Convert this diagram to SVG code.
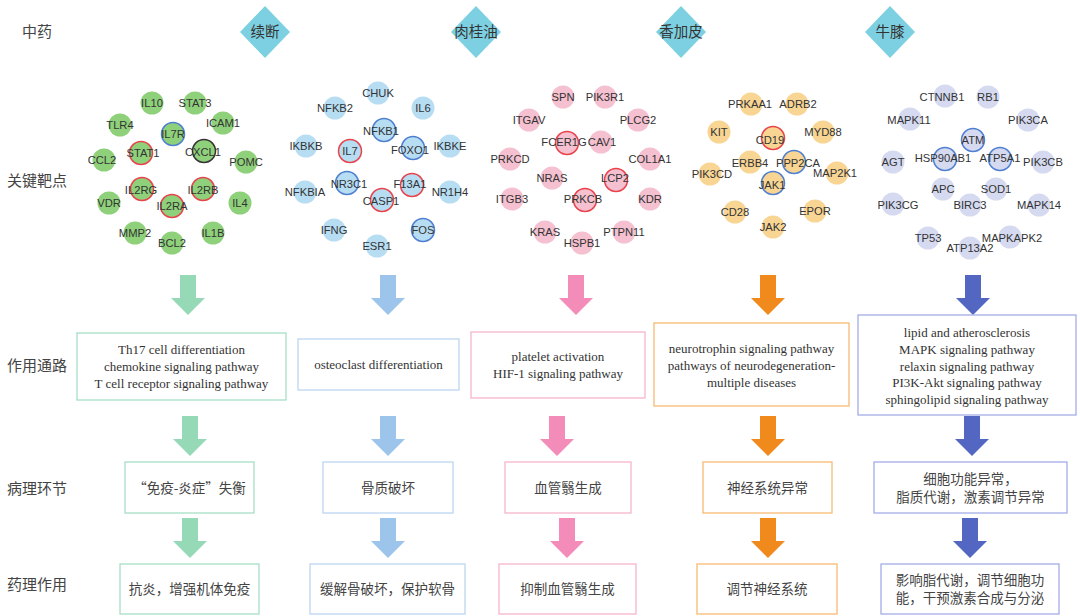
<svg xmlns="http://www.w3.org/2000/svg" xmlns:xlink="http://www.w3.org/1999/xlink" width="1080" height="616" viewBox="0 0 1080 616">
<style>
.lab{font-family:"Noto Sans CJK SC",sans-serif;font-size:15px;fill:#444;text-anchor:middle}
.dia{fill:#7dd0e1}
.dt{font-family:"Noto Sans CJK SC",sans-serif;font-size:14.5px;fill:#333;text-anchor:middle}
.n{font-family:"Liberation Sans",Arial,sans-serif;font-size:11.2px;fill:#333;text-anchor:middle}
circle{r:11.5px}
.g{fill:#8fd17b}.b{fill:#b7ddf3}.p{fill:#f5c0cf}.o{fill:#f9d593}.v{fill:#d6daf1}
.rr{stroke:#e8434b;stroke-width:1.5}.rb{stroke:#4f7fd0;stroke-width:1.5}.rk{stroke:#333;stroke-width:1.5}
.box{fill:#fff;stroke-width:1.3}
.bg{stroke:#a8dfc6}.bb{stroke:#bcd6f2}.bp{stroke:#f6b5cb}.bo{stroke:#f8bb72}.bv{stroke:#a3ace6}
.bt{font-family:"Liberation Serif","Noto Sans CJK SC",serif;font-size:13px;fill:#333;text-anchor:middle}
.ct{font-family:"Noto Sans CJK SC",sans-serif;font-size:13.5px;fill:#444;text-anchor:middle}
</style>
<defs>
<polygon id="arr" points="-8,0 8,0 8,23 17,23 0,40 -17,23 -8,23"/>
</defs>
<rect width="1080" height="616" fill="#fff"/>

<g id="row-labels">
<text class="lab" x="37" y="37">中药</text>
<text class="lab" x="37" y="186">关键靶点</text>
<text class="lab" x="37" y="371">作用通路</text>
<text class="lab" x="37" y="494">病理环节</text>
<text class="lab" x="37" y="590">药理作用</text>
</g>

<g id="herb-xuduan"><polygon class="dia" points="265,6 290,32 265,58 240,32"/><text class="dt" x="265" y="37">续断</text></g>
<g id="herb-rouguiyou"><polygon class="dia" points="476,6 501,32 476,58 451,32"/><text class="dt" x="476" y="37">肉桂油</text></g>
<g id="herb-xiangjiapi"><polygon class="dia" points="681,6 706,32 681,58 656,32"/><text class="dt" x="681" y="37">香加皮</text></g>
<g id="herb-niuxi"><polygon class="dia" points="890,6 915,32 890,58 865,32"/><text class="dt" x="890" y="37">牛膝</text></g>

<g id="targets-xuduan">
<g id="n-IL10"><circle class="g" cx="152" cy="103" r="11.5"/><text class="n" x="152" y="107">IL10</text></g>
<g id="n-STAT3"><circle class="g" cx="195" cy="103" r="11.5"/><text class="n" x="195" y="107">STAT3</text></g>
<g id="n-TLR4"><circle class="g" cx="120" cy="125" r="11.5"/><text class="n" x="120" y="129">TLR4</text></g>
<g id="n-ICAM1"><circle class="g" cx="223" cy="123" r="11.5"/><text class="n" x="223" y="127">ICAM1</text></g>
<g id="n-IL7R"><circle class="g rb" cx="173" cy="134" r="11.5"/><text class="n" x="173" y="138">IL7R</text></g>
<g id="n-STAT1"><circle class="g rr" cx="141" cy="153" r="11.5"/><text class="n" x="143" y="157">STAT1</text></g>
<g id="n-CXCL1"><circle class="g rk" cx="204" cy="151" r="11.5"/><text class="n" x="203" y="156">CXCL1</text></g>
<g id="n-CCL2"><circle class="g" cx="104" cy="160" r="11.5"/><text class="n" x="102" y="164">CCL2</text></g>
<g id="n-POMC"><circle class="g" cx="246" cy="162" r="11.5"/><text class="n" x="246" y="166">POMC</text></g>
<g id="n-IL2RG"><circle class="g rr" cx="142" cy="189" r="11.5"/><text class="n" x="141" y="194">IL2RG</text></g>
<g id="n-IL2RB"><circle class="g rr" cx="203" cy="189" r="11.5"/><text class="n" x="203" y="194">IL2RB</text></g>
<g id="n-IL2RA"><circle class="g rr" cx="172" cy="206" r="11.5"/><text class="n" x="172" y="210">IL2RA</text></g>
<g id="n-VDR"><circle class="g" cx="109" cy="203" r="11.5"/><text class="n" x="109" y="207">VDR</text></g>
<g id="n-IL4"><circle class="g" cx="240" cy="203" r="11.5"/><text class="n" x="240" y="207">IL4</text></g>
<g id="n-MMP2"><circle class="g" cx="135" cy="233" r="11.5"/><text class="n" x="135" y="237">MMP2</text></g>
<g id="n-IL1B"><circle class="g" cx="213" cy="233" r="11.5"/><text class="n" x="213" y="237">IL1B</text></g>
<g id="n-BCL2"><circle class="g" cx="172" cy="243" r="11.5"/><text class="n" x="172" y="247">BCL2</text></g>
</g>

<g id="targets-rouguiyou">
<g id="n-CHUK"><circle class="b" cx="378" cy="93" r="11.5"/><text class="n" x="378" y="97">CHUK</text></g>
<g id="n-NFKB2"><circle class="b" cx="335" cy="108" r="11.5"/><text class="n" x="335" y="112">NFKB2</text></g>
<g id="n-IL6"><circle class="b" cx="423" cy="108" r="11.5"/><text class="n" x="423" y="112">IL6</text></g>
<g id="n-NFKB1"><circle class="b rb" cx="384" cy="130" r="11.5"/><text class="n" x="381" y="135">NFKB1</text></g>
<g id="n-IKBKB"><circle class="b" cx="306" cy="146" r="11.5"/><text class="n" x="306" y="150">IKBKB</text></g>
<g id="n-IL7"><circle class="b rr" cx="350" cy="151" r="11.5"/><text class="n" x="350" y="155">IL7</text></g>
<g id="n-FOXO1"><circle class="b rb" cx="413" cy="148" r="11.5"/><text class="n" x="410" y="154">FOXO1</text></g>
<g id="n-IKBKE"><circle class="b" cx="450" cy="146" r="11.5"/><text class="n" x="450" y="150">IKBKE</text></g>
<g id="n-NFKBIA"><circle class="b" cx="305" cy="192" r="11.5"/><text class="n" x="305" y="196">NFKBIA</text></g>
<g id="n-NR3C1"><circle class="b rb" cx="347" cy="183" r="11.5"/><text class="n" x="349" y="188">NR3C1</text></g>
<g id="n-F13A1"><circle class="b rr" cx="412" cy="185" r="11.5"/><text class="n" x="410" y="188">F13A1</text></g>
<g id="n-NR1H4"><circle class="b" cx="450" cy="192" r="11.5"/><text class="n" x="450" y="196">NR1H4</text></g>
<g id="n-CASP1"><circle class="b rr" cx="382" cy="200" r="11.5"/><text class="n" x="381" y="205">CASP1</text></g>
<g id="n-IFNG"><circle class="b" cx="334" cy="230" r="11.5"/><text class="n" x="334" y="234">IFNG</text></g>
<g id="n-FOS"><circle class="b rb" cx="423" cy="230" r="11.5"/><text class="n" x="423" y="234">FOS</text></g>
<g id="n-ESR1"><circle class="b" cx="377" cy="246" r="11.5"/><text class="n" x="377" y="250">ESR1</text></g>
</g>

<g id="targets-rouguiyou-pink">
<g id="n-SPN"><circle class="p" cx="563" cy="97" r="11.5"/><text class="n" x="563" y="101">SPN</text></g>
<g id="n-PIK3R1"><circle class="p" cx="605" cy="97" r="11.5"/><text class="n" x="605" y="101">PIK3R1</text></g>
<g id="n-ITGAV"><circle class="p" cx="529" cy="120" r="11.5"/><text class="n" x="529" y="124">ITGAV</text></g>
<g id="n-PLCG2"><circle class="p" cx="638" cy="120" r="11.5"/><text class="n" x="638" y="124">PLCG2</text></g>
<g id="n-FCER1G"><circle class="p rr" cx="567" cy="143" r="11.5"/><text class="n" x="564" y="146">FCER1G</text></g>
<g id="n-CAV1"><circle class="p" cx="601" cy="142" r="11.5"/><text class="n" x="602" y="146">CAV1</text></g>
<g id="n-PRKCD"><circle class="p" cx="510" cy="159" r="11.5"/><text class="n" x="510" y="163">PRKCD</text></g>
<g id="n-COL1A1"><circle class="p" cx="650" cy="159" r="11.5"/><text class="n" x="650" y="163">COL1A1</text></g>
<g id="n-NRAS"><circle class="p" cx="552" cy="178" r="11.5"/><text class="n" x="552" y="182">NRAS</text></g>
<g id="n-LCP2"><circle class="p rr" cx="616" cy="180" r="11.5"/><text class="n" x="615" y="182">LCP2</text></g>
<g id="n-ITGB3"><circle class="p" cx="512" cy="199" r="11.5"/><text class="n" x="512" y="203">ITGB3</text></g>
<g id="n-PRKCB"><circle class="p rr" cx="585" cy="200" r="11.5"/><text class="n" x="583" y="203">PRKCB</text></g>
<g id="n-KDR"><circle class="p" cx="650" cy="199" r="11.5"/><text class="n" x="650" y="203">KDR</text></g>
<g id="n-KRAS"><circle class="p" cx="545" cy="232" r="11.5"/><text class="n" x="545" y="236">KRAS</text></g>
<g id="n-PTPN11"><circle class="p" cx="624" cy="232" r="11.5"/><text class="n" x="624" y="236">PTPN11</text></g>
<g id="n-HSPB1"><circle class="p" cx="582" cy="243" r="11.5"/><text class="n" x="582" y="247">HSPB1</text></g>
</g>

<g id="targets-xiangjiapi">
<g id="n-PRKAA1"><circle class="o" cx="751" cy="104" r="11.5"/><text class="n" x="750" y="108">PRKAA1</text></g>
<g id="n-ADRB2"><circle class="o" cx="797" cy="104" r="11.5"/><text class="n" x="798" y="108">ADRB2</text></g>
<g id="n-KIT"><circle class="o" cx="719" cy="132" r="11.5"/><text class="n" x="719" y="136">KIT</text></g>
<g id="n-MYD88"><circle class="o" cx="823" cy="132" r="11.5"/><text class="n" x="823" y="136">MYD88</text></g>
<g id="n-CD19"><circle class="o rr" cx="773" cy="138" r="11.5"/><text class="n" x="770" y="144">CD19</text></g>
<g id="n-ERBB4"><circle class="o" cx="750" cy="162" r="11.5"/><text class="n" x="750" y="167">ERBB4</text></g>
<g id="n-PPP2CA"><circle class="o rb" cx="794" cy="162" r="11.5"/><text class="n" x="798" y="167">PPP2CA</text></g>
<g id="n-PIK3CD"><circle class="o" cx="710" cy="174" r="11.5"/><text class="n" x="712" y="178">PIK3CD</text></g>
<g id="n-MAP2K1"><circle class="o" cx="837" cy="173" r="11.5"/><text class="n" x="835" y="177">MAP2K1</text></g>
<g id="n-JAK1"><circle class="o rb" cx="773" cy="183" r="11.5"/><text class="n" x="772" y="189">JAK1</text></g>
<g id="n-CD28"><circle class="o" cx="735" cy="212" r="11.5"/><text class="n" x="735" y="216">CD28</text></g>
<g id="n-EPOR"><circle class="o" cx="815" cy="211" r="11.5"/><text class="n" x="815" y="215">EPOR</text></g>
<g id="n-JAK2"><circle class="o" cx="773" cy="227" r="11.5"/><text class="n" x="773" y="231">JAK2</text></g>
</g>

<g id="targets-niuxi">
<g id="n-CTNNB1"><circle class="v" cx="945" cy="96" r="11.5"/><text class="n" x="942" y="101">CTNNB1</text></g>
<g id="n-RB1"><circle class="v" cx="988" cy="97" r="11.5"/><text class="n" x="988" y="101">RB1</text></g>
<g id="n-MAPK11"><circle class="v" cx="910" cy="119" r="11.5"/><text class="n" x="909" y="124">MAPK11</text></g>
<g id="n-PIK3CA"><circle class="v" cx="1028" cy="120" r="11.5"/><text class="n" x="1028" y="124">PIK3CA</text></g>
<g id="n-ATM"><circle class="v rb" cx="973" cy="140" r="11.5"/><text class="n" x="973" y="144">ATM</text></g>
<g id="n-HSP90AB1"><circle class="v rb" cx="945" cy="159" r="11.5"/><text class="n" x="943" y="162">HSP90AB1</text></g>
<g id="n-ATP5A1"><circle class="v rb" cx="1000" cy="159" r="11.5"/><text class="n" x="1000" y="162">ATP5A1</text></g>
<g id="n-AGT"><circle class="v" cx="893" cy="162" r="11.5"/><text class="n" x="893" y="166">AGT</text></g>
<g id="n-PIK3CB"><circle class="v" cx="1043" cy="162" r="11.5"/><text class="n" x="1043" y="166">PIK3CB</text></g>
<g id="n-APC"><circle class="v" cx="943" cy="189" r="11.5"/><text class="n" x="943" y="193">APC</text></g>
<g id="n-SOD1"><circle class="v" cx="996" cy="189" r="11.5"/><text class="n" x="996" y="193">SOD1</text></g>
<g id="n-PIK3CG"><circle class="v" cx="893" cy="204" r="11.5"/><text class="n" x="898" y="209">PIK3CG</text></g>
<g id="n-BIRC3"><circle class="v" cx="970" cy="205" r="11.5"/><text class="n" x="970" y="209">BIRC3</text></g>
<g id="n-MAPK14"><circle class="v" cx="1039" cy="205" r="11.5"/><text class="n" x="1039" y="209">MAPK14</text></g>
<g id="n-TP53"><circle class="v" cx="928" cy="238" r="11.5"/><text class="n" x="928" y="242">TP53</text></g>
<g id="n-MAPKAPK2"><circle class="v" cx="1010" cy="237" r="11.5"/><text class="n" x="1012" y="242">MAPKAPK2</text></g>
<g id="n-ATP13A2"><circle class="v" cx="970" cy="248" r="11.5"/><text class="n" x="970" y="252">ATP13A2</text></g>
</g>

<g id="connectors">
<use xlink:href="#arr" href="#arr" x="188" y="275" fill="#96d9b6"/>
<use xlink:href="#arr" href="#arr" x="388" y="275" fill="#9dc4ea"/>
<use xlink:href="#arr" href="#arr" x="576" y="275" fill="#f38cb8"/>
<use xlink:href="#arr" href="#arr" x="768" y="275" fill="#f08a1c"/>
<use xlink:href="#arr" href="#arr" x="973" y="275" fill="#5266c2"/>
<use xlink:href="#arr" href="#arr" x="190" y="416" fill="#96d9b6"/>
<use xlink:href="#arr" href="#arr" x="388" y="416" fill="#9dc4ea"/>
<use xlink:href="#arr" href="#arr" x="557" y="416" fill="#f38cb8"/>
<use xlink:href="#arr" href="#arr" x="768" y="416" fill="#f08a1c"/>
<use xlink:href="#arr" href="#arr" x="972" y="416" fill="#5266c2"/>
<use xlink:href="#arr" href="#arr" x="190" y="518" fill="#96d9b6"/>
<use xlink:href="#arr" href="#arr" x="388" y="518" fill="#9dc4ea"/>
<use xlink:href="#arr" href="#arr" x="567" y="518" fill="#f38cb8"/>
<use xlink:href="#arr" href="#arr" x="768" y="518" fill="#f08a1c"/>
<use xlink:href="#arr" href="#arr" x="970" y="518" fill="#5266c2"/>
</g>

<g id="path-xuduan"><rect class="box bg" x="77" y="333" width="209" height="67"/>
<text class="bt" x="181.5" y="354">Th17 cell differentiation</text>
<text class="bt" x="181.5" y="371">chemokine signaling pathway</text>
<text class="bt" x="181.5" y="388">T cell receptor signaling pathway</text></g>
<g id="path-rouguiyou"><rect class="box bb" x="298" y="339" width="161" height="51"/>
<text class="bt" x="378.5" y="369">osteoclast differentiation</text></g>
<g id="path-rgy"><rect class="box bp" x="471" y="332" width="174" height="66"/>
<text class="bt" x="558" y="361">platelet activation</text>
<text class="bt" x="558" y="378">HIF-1 signaling pathway</text></g>
<g id="path-xiangjiapi"><rect class="box bo" x="654" y="323" width="195" height="83"/>
<text class="bt" x="751.5" y="353">neurotrophin signaling pathway</text>
<text class="bt" x="751.5" y="370">pathways of neurodegeneration-</text>
<text class="bt" x="751.5" y="387">multiple diseases</text></g>
<g id="path-niuxi"><rect class="box bv" x="858" y="315" width="218" height="100"/>
<text class="bt" x="967" y="337">lipid and atherosclerosis</text>
<text class="bt" x="967" y="354">MAPK signaling pathway</text>
<text class="bt" x="967" y="370.5">relaxin signaling pathway</text>
<text class="bt" x="967" y="387">PI3K-Akt signaling pathway</text>
<text class="bt" x="967" y="404">sphingolipid signaling pathway</text></g>

<g id="patho-xuduan"><rect class="box bg" x="125" y="462" width="129" height="51"/><text class="ct" x="189.5" y="492.5">“免疫-炎症”失衡</text></g>
<g id="patho-rouguiyou"><rect class="box bb" x="323" y="462" width="130" height="51"/><text class="ct" x="388" y="492.5">骨质破坏</text></g>
<g id="patho-rgy"><rect class="box bp" x="505" y="462" width="126" height="51"/><text class="ct" x="568" y="492.5">血管翳生成</text></g>
<g id="patho-xiangjiapi"><rect class="box bo" x="703" y="462" width="129" height="51"/><text class="ct" x="767.5" y="492.5">神经系统异常</text></g>
<g id="patho-niuxi"><rect class="box bv" x="874" y="462" width="193" height="51"/><text class="ct" x="970.5" y="484">细胞功能异常，</text><text class="ct" x="970.5" y="502">脂质代谢，激素调节异常</text></g>

<g id="pharm-xuduan"><rect class="box bg" x="120" y="564" width="139" height="50"/><text class="ct" x="189.5" y="594">抗炎，增强机体免疫</text></g>
<g id="pharm-rouguiyou"><rect class="box bb" x="310" y="564" width="155" height="50"/><text class="ct" x="387.5" y="594">缓解骨破坏，保护软骨</text></g>
<g id="pharm-rgy"><rect class="box bp" x="499" y="564" width="137" height="50"/><text class="ct" x="567.5" y="594">抑制血管翳生成</text></g>
<g id="pharm-xiangjiapi"><rect class="box bo" x="697" y="564" width="140" height="50"/><text class="ct" x="767" y="594">调节神经系统</text></g>
<g id="pharm-niuxi"><rect class="box bv" x="881" y="564" width="178" height="50"/><text class="ct" x="970" y="585">影响脂代谢，调节细胞功</text><text class="ct" x="970" y="603">能，干预激素合成与分泌</text></g>
</svg>
